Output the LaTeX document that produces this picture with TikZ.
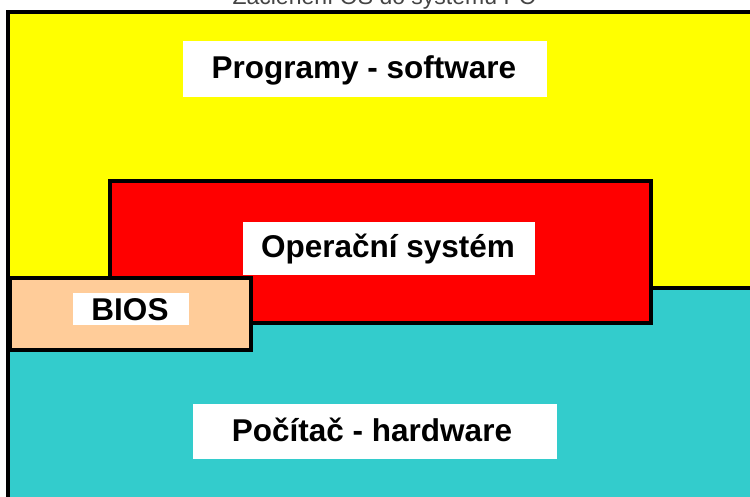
\documentclass[tikz,border=0pt]{standalone}
\usepackage{fontspec}
\setmainfont{Liberation Sans}
\definecolor{cYellow}{HTML}{FFFF00}
\definecolor{cRed}{HTML}{FF0000}
\definecolor{cCyan}{HTML}{33CCCC}
\definecolor{cPeach}{HTML}{FFCC99}
\definecolor{cTitle}{HTML}{444444}
\tikzset{
  layer/.style={draw=black, line width=4pt, line join=miter},
  labelbox/.style={fill=white, draw=none, inner sep=0pt, outer sep=0pt},
  labeltext/.style={inner sep=0pt, font=\fontsize{31.5}{36}\selectfont\bfseries, text=black},
}
\begin{document}
\begin{tikzpicture}[x=1pt, y=-1pt]
\useasboundingbox (0,0) rectangle (750,496);
% title (cut at the top of the page)
\node[anchor=base, inner sep=0pt, font=\fontsize{23}{27}\selectfont, text=cTitle] (title) at (384,4) {Začlenění OS do systému PC};
% software layer (yellow) and hardware layer (cyan)
\fill[cYellow] (8,12) rectangle (800,560);
\fill[cCyan] (8,288) rectangle (800,560);
\coordinate (hwl) at (649,288);
\coordinate (hwr) at (800,288);
\draw[line width=4pt] (hwl) -- (hwr);
% operating system
\node[layer, fill=cRed, minimum width=541pt, minimum height=142pt, inner sep=0pt, anchor=north west] (os) at (108,179) {};
% BIOS
\node[layer, fill=cPeach, minimum width=241pt, minimum height=72pt, inner sep=0pt, anchor=north west] (bios) at (8,276) {};
% outer frame
\draw[layer] (8,12) rectangle (800,560);
% labels
\node[labelbox, minimum width=364pt, minimum height=56pt] (swbox) at (365,69) {};
\node[labeltext, anchor=base] (swtext) at (364,78) {Programy - software};
\node[labelbox, minimum width=292pt, minimum height=53pt] (osbox) at (389,248.5) {};
\node[labeltext, anchor=base] (ostext) at (388,257) {Operační systém};
\node[labelbox, minimum width=116pt, minimum height=32pt] (biosbox) at (131,309) {};
\node[labeltext, anchor=base] (biostext) at (130,320) {BIOS};
\node[labelbox, minimum width=364pt, minimum height=55pt] (hwbox) at (375,431.5) {};
\node[labeltext, anchor=base] (hwtext) at (372,441) {Počítač - hardware};
\end{tikzpicture}
\end{document}
